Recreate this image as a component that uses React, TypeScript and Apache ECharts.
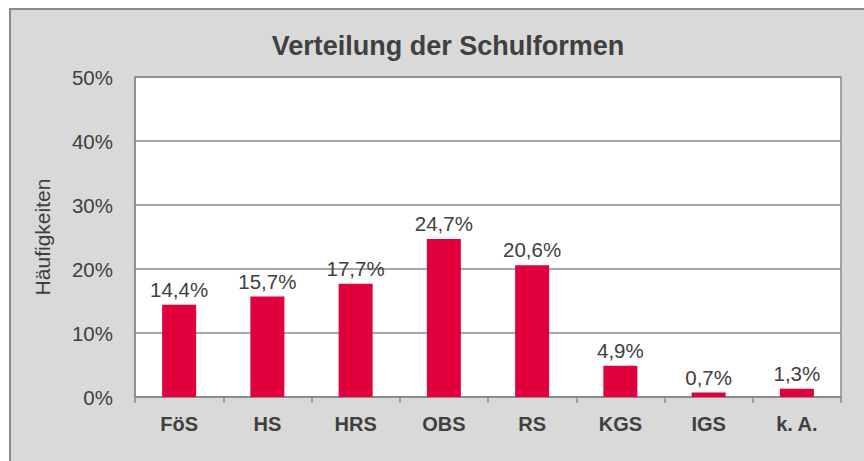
import React, { useEffect, useRef } from "react";
import * as echarts from "echarts";

const categories = ["FöS", "HS", "HRS", "OBS", "RS", "KGS", "IGS", "k. A."];
const values = [14.4, 15.7, 17.7, 24.7, 20.6, 4.9, 0.7, 1.3];
const yTicks = [0, 10, 20, 30, 40, 50];
const title = "Verteilung der Schulformen";
const yName = "Häufigkeiten";

const FONT = "'Liberation Sans', Arial, sans-serif";
const TEXT = "#404040";
const GRAY = "#8a8a8a";

export default function App() {
  const ref = useRef<HTMLDivElement>(null);
  useEffect(() => {
    if (!ref.current) return;
    const chart = echarts.init(ref.current, undefined, { renderer: "svg" });
    chart.setOption({
      animation: false,
      backgroundColor: "#ffffff",
      textStyle: { fontFamily: FONT },
      graphic: [
        {
          type: "rect",
          z: -10,
          silent: true,
          shape: { x: 10, y: 9, width: 900, height: 500 },
          style: { fill: "#D9D9D9", stroke: GRAY, lineWidth: 2 },
        },
      ],
      title: {
        text: title,
        left: 443,
        top: 27,
        textAlign: "center",
        textStyle: { fontFamily: FONT, fontSize: 27, fontWeight: "bold", color: TEXT },
      },
      grid: {
        left: 135,
        top: 77,
        right: 23,
        bottom: 64,
        show: true,
        backgroundColor: "#ffffff",
        borderColor: GRAY,
        borderWidth: 1.5,
        containLabel: false,
      },
      xAxis: {
        type: "category",
        data: categories,
        axisLine: { lineStyle: { color: GRAY, width: 1.5 } },
        axisTick: { show: true, length: 6, lineStyle: { color: GRAY, width: 1.5 } },
        axisLabel: {
          fontFamily: FONT,
          fontSize: 20,
          fontWeight: "bold",
          color: TEXT,
          margin: 17,
        },
      },
      yAxis: {
        type: "value",
        min: 0,
        max: 50,
        interval: 10,
        name: yName,
        nameLocation: "middle",
        nameRotate: 90,
        nameGap: 82,
        nameTextStyle: { fontFamily: FONT, fontSize: 21, color: TEXT },
        axisLine: { show: true, lineStyle: { color: GRAY, width: 1.5 } },
        axisTick: { show: false },
        splitLine: { show: true, lineStyle: { color: GRAY, width: 1.5 } },
        axisLabel: {
          fontFamily: FONT,
          fontSize: 20.5,
          color: TEXT,
          margin: 22,
          formatter: (v: number) => (yTicks.includes(v) ? `${v}%` : ""),
        },
      },
      series: [
        {
          type: "bar",
          data: values,
          barWidth: 34,
          itemStyle: { color: "#E1003C" },
          label: {
            show: true,
            position: "top",
            distance: 5,
            fontFamily: FONT,
            fontSize: 20.5,
            color: TEXT,
            formatter: (p: any) => `${p.value.toFixed(1).replace(".", ",")}%`,
          },
        },
      ],
    });
    return () => chart.dispose();
  }, []);
  return (
    <div
      ref={ref}
      style={{ position: "fixed", left: 0, top: 0, width: 864, height: 461 }}
    />
  );
}
